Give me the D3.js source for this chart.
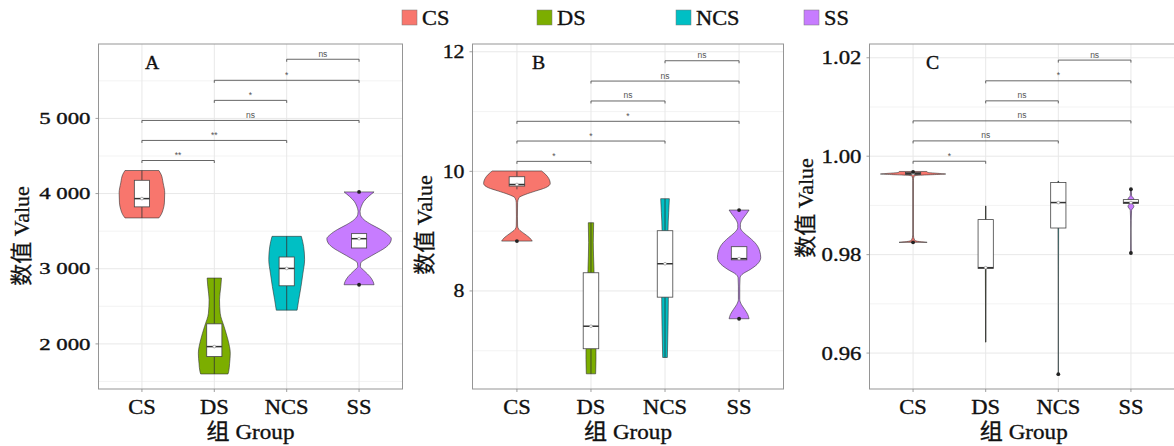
<!DOCTYPE html>
<html><head><meta charset="utf-8">
<script src="https://cdn.jsdelivr.net/npm/d3@7"></script>
<style>body{margin:0;background:#fff} svg{display:block}</style>
</head><body>
<svg id="chart" width="1174" height="446"></svg>
<script>
// ---------- data ----------
const groups = ["CS","DS","NCS","SS"];
const groupColors = ["#F8766D","#7CAE00","#00BFC4","#C77CFF"];

// Panel A
const domainA = [1400, 5990];
const yTicksA = [2000,3000,4000,5000];
const yMinorA = [1500,2500,3500,4500,5500];
const violinA_CS = [[3676,0.52],[3720,0.59],[3787,0.65],[3876,0.69],[4009,0.70],[4142,0.65],[4253,0.59],[4307,0.52]];
const violinA_DS = [[1600,0.42],[1631,0.44],[1742,0.47],[1876,0.49],[2053,0.42],[2231,0.30],[2409,0.18],[2587,0.16],[2764,0.20],[2876,0.22]];
const violinA_NCS = [[2449,0.32],[2587,0.37],[2764,0.44],[2942,0.50],[3120,0.55],[3297,0.52],[3431,0.45]];
const violinA_SS = [[2787,0.46],[2831,0.43],[2898,0.33],[2964,0.18],[3031,0.04],[3076,0.05],[3142,0.26],[3209,0.53],[3276,0.79],[3342,0.95],[3400,0.99],[3453,0.89],[3520,0.67],[3587,0.38],[3653,0.15],[3720,0.04],[3764,0.03],[3831,0.07],[3898,0.15],[3964,0.30],[4022,0.46]];
// box: [lower whisker, q1, median, q3, upper whisker]
const boxA = [[3676,3823,3933,4177,4307],[1600,1831,1964,2267,2876],[2449,2773,3004,3156,3431],[3276,3276,3400,3467,3467]];
const outliersA = [[],[],[],[2787,4022]];
const bracketsA = [["CS","DS",4440,"**"],["CS","NCS",4707,"**"],["CS","SS",4973,"ns"],["DS","NCS",5240,"*"],["DS","SS",5507,"*"],["NCS","SS",5787,"ns"]];

// Panel B
const domainB = [6.36, 12.13];
const yTicksB = [8,10,12];
const yMinorB = [7,9,11];
const violinB_CS = [[8.834,0.46],[8.890,0.38],[8.962,0.21],[9.029,0.06],[9.085,0.02],[9.252,0.015],[9.476,0.02],[9.559,0.06],[9.615,0.26],[9.671,0.56],[9.727,0.86],[9.799,1.0],[9.877,0.96],[9.950,0.86],[10.006,0.74]];
const violinB_DS = [[6.614,0.14],[6.854,0.15],[7.021,0.15],[7.690,0.12],[8.360,0.09],[8.806,0.07],[9.141,0.08]];
const violinB_NCS = [[6.887,0.07],[7.411,0.09],[7.857,0.10],[8.471,0.10],[9.029,0.09],[9.308,0.11],[9.543,0.13]];
const violinB_SS = [[7.535,0.30],[7.607,0.26],[7.690,0.17],[7.774,0.07],[7.858,0.02],[8.081,0.02],[8.220,0.03],[8.276,0.09],[8.360,0.34],[8.444,0.54],[8.555,0.65],[8.667,0.62],[8.778,0.52],[8.890,0.32],[8.974,0.14],[9.057,0.04],[9.113,0.04],[9.197,0.10],[9.280,0.21],[9.353,0.30]];
const boxB = [[9.70,9.754,9.78,9.91,10.0],[6.614,7.033,7.41,8.304,9.14],[6.887,7.896,8.455,9.007,9.54],[8.52,8.52,8.54,8.74,8.74]];
const outliersB = [[8.834],[],[],[7.535,9.352]];
const bracketsB = [["CS","DS",10.167,"*"],["CS","NCS",10.507,"*"],["CS","SS",10.837,"*"],["DS","NCS",11.177,"ns"],["DS","SS",11.51,"ns"],["NCS","SS",11.85,"ns"]];

// Panel C
const domainC = [0.9527, 1.0228];
const yTicksC = [0.96,0.98,1.00,1.02];
const yMinorC = [0.97,0.99,1.01];
const violinC_CS = [[0.98250,0.43],[0.98265,0.2],[0.98290,0.05],[0.9840,0.01],[0.9950,0.01],[0.99595,0.03],[0.99612,0.15],[0.99625,0.6],[0.99638,1.0],[0.99650,0.8],[0.99670,0.45],[0.99690,0.42]];
const violinC_DS = [[0.96222,0.004],[0.9700,0.006],[0.9772,0.01],[0.9850,0.008],[0.98989,0.005]];
const violinC_NCS = [[0.95571,0.004],[0.9700,0.004],[0.9850,0.01],[0.9906,0.015],[0.99491,0.01]];
const violinC_SS = [[0.98033,0.01],[0.9850,0.005],[0.9890,0.02],[0.9898,0.09],[0.99058,0.03],[0.9913,0.09],[0.9920,0.02],[0.99329,0.01]];
const boxC = [[0.9963,0.9963,0.99645,0.99668,0.99668],[0.96222,0.97721,0.97735,0.98712,0.98989],[0.98541,0.98541,0.99058,0.99465,0.99491],[0.99038,0.99038,0.99058,0.99118,0.99118]];
const outliersC = [[0.9825,0.99681],[],[0.95571],[0.98033,0.99329]];
const bracketsC = [["CS","DS",0.99898,"*"],["CS","NCS",1.00311,"ns"],["CS","SS",1.00718,"ns"],["DS","NCS",1.01125,"ns"],["DS","SS",1.01532,"*"],["NCS","SS",1.01953,"ns"]];

const xTitle = "组 Group";
const yTitle = "数值 Value";

// ---------- layout / style ----------
const serif = "'Liberation Serif','Times New Roman','Noto Sans CJK SC',serif";
const sans = "'Liberation Sans',Arial,sans-serif";
const spaceFmt = d3.formatLocale({decimal:".",thousands:" ",grouping:[3],currency:["",""]}).format(",");
const plotTop = 44, plotBottom = 389;

const panels = [
  {label:"A", domain:domainA, ticks:yTicksA, minor:yMinorA, violins:[violinA_CS,violinA_DS,violinA_NCS,violinA_SS], boxes:boxA, outliers:outliersA, brackets:bracketsA, fmt:spaceFmt, x0:98.5, x1:402.5, titleX:21.5, titleY:236, tickSize:16.5, tickSX:1.38, labelX:145},
  {label:"B", domain:domainB, ticks:yTicksB, minor:yMinorB, violins:[violinB_CS,violinB_DS,violinB_NCS,violinB_SS], boxes:boxB, outliers:outliersB, brackets:bracketsB, fmt:d3.format("d"), x0:472.5, x1:783.5, titleX:424, titleY:225, tickSize:19, tickSX:1.15, labelX:532},
  {label:"C", domain:domainC, ticks:yTicksC, minor:yMinorC, violins:[violinC_CS,violinC_DS,violinC_NCS,violinC_SS], boxes:boxC, outliers:outliersC, brackets:bracketsC, fmt:d3.format(".2f"), x0:869.5, x1:1174.5, titleX:805, titleY:208, tickSize:19, tickSX:1.2, labelX:926}
];

const svg = d3.select("#chart");

function stretchedText(g, x, y, str, size, anchor, sx, family) {
  return g.append("text")
    .attr("transform", `translate(${x},${y}) scale(${sx},1)`)
    .attr("text-anchor", anchor)
    .attr("font-family", family || serif)
    .attr("font-size", size)
    .attr("fill", "#111")
    .attr("stroke", "#111").attr("stroke-width", 0.35)
    .text(str);
}

panels.forEach(p => {
  const g = svg.append("g");
  const x = d3.scalePoint().domain(groups).range([p.x0, p.x1]).padding(0.6);
  const y = d3.scaleLinear().domain(p.domain).range([plotBottom, plotTop]);
  const w = d3.scaleLinear().domain([0,1]).range([0, 0.45 * x.step()]);
  const bw = 0.105 * x.step();

  // grid
  g.selectAll(".minor").data(p.minor).join("line")
    .attr("x1", p.x0).attr("x2", p.x1).attr("y1", d => y(d)).attr("y2", d => y(d))
    .attr("stroke", "#f0f0f0").attr("stroke-width", 0.8);
  g.selectAll(".major").data(p.ticks).join("line")
    .attr("x1", p.x0).attr("x2", p.x1).attr("y1", d => y(d)).attr("y2", d => y(d))
    .attr("stroke", "#e8e8e8").attr("stroke-width", 1);
  g.selectAll(".vgrid").data(groups).join("line")
    .attr("x1", d => x(d)).attr("x2", d => x(d)).attr("y1", plotTop).attr("y2", plotBottom)
    .attr("stroke", "#e8e8e8").attr("stroke-width", 1);

  // violins
  groups.forEach((grp, i) => {
    const cx = x(grp);
    const prof = p.violins[i].slice().sort((a,b) => b[0]-a[0]);
    const area = d3.area()
      .y(d => y(d[0]))
      .x0(d => cx - w(d[1]))
      .x1(d => cx + w(d[1]))
      .curve(d3.curveMonotoneY);
    g.append("path").attr("d", area(prof))
      .attr("fill", groupColors[i]).attr("stroke", "#333").attr("stroke-width", 0.6);
  });

  // boxplots
  groups.forEach((grp, i) => {
    const cx = x(grp);
    const [lo, q1, med, q3, hi] = p.boxes[i];
    g.append("line").attr("x1", cx).attr("x2", cx).attr("y1", y(hi)).attr("y2", y(q3))
      .attr("stroke", "#333").attr("stroke-width", 0.8);
    g.append("line").attr("x1", cx).attr("x2", cx).attr("y1", y(q1)).attr("y2", y(lo))
      .attr("stroke", "#333").attr("stroke-width", 0.8);
    g.append("rect").attr("x", cx - bw).attr("width", 2*bw)
      .attr("y", y(q3)).attr("height", Math.max(0.5, y(q1) - y(q3)))
      .attr("fill", "#fff").attr("stroke", "#444").attr("stroke-width", 0.8);
    g.append("line").attr("x1", cx - bw).attr("x2", cx + bw).attr("y1", y(med)).attr("y2", y(med))
      .attr("stroke", "#333").attr("stroke-width", 1.5);
    g.append("circle").attr("cx", cx).attr("cy", y(med)).attr("r", 1.4)
      .attr("fill", "#fff").attr("stroke", "#888").attr("stroke-width", 0.6);
    p.outliers[i].forEach(v => {
      g.append("circle").attr("cx", cx).attr("cy", y(v)).attr("r", 1.9).attr("fill", "#222");
    });
  });

  // significance brackets
  p.brackets.forEach(([a, b, v, lab]) => {
    const xa = x(a), xb = x(b), yy = y(v), tip = 2.5;
    g.append("path").attr("d", `M${xa},${yy+tip}V${yy}H${xb}V${yy+tip}`)
      .attr("fill", "none").attr("stroke", "#555").attr("stroke-width", 0.9);
    g.append("text").attr("x", (xa+xb)/2).attr("y", yy - 2.5)
      .attr("text-anchor", "middle").attr("font-family", sans).attr("font-size", 8.5)
      .attr("fill", "#555").text(lab);
  });

  // border
  g.append("rect").attr("x", p.x0).attr("y", plotTop).attr("width", p.x1 - p.x0).attr("height", plotBottom - plotTop)
    .attr("fill", "none").attr("stroke", "#959595").attr("stroke-width", 1);

  // y axis ticks + labels
  p.ticks.forEach(t => {
    g.append("line").attr("x1", p.x0 - 3).attr("x2", p.x0).attr("y1", y(t)).attr("y2", y(t))
      .attr("stroke", "#888").attr("stroke-width", 0.8);
    stretchedText(g, p.x0 - 8, y(t) + p.tickSize*0.34, p.fmt(t), p.tickSize, "end", p.tickSX);
  });
  // x axis ticks + labels
  groups.forEach(grp => {
    g.append("line").attr("x1", x(grp)).attr("x2", x(grp)).attr("y1", plotBottom).attr("y2", plotBottom + 3)
      .attr("stroke", "#888").attr("stroke-width", 0.8);
    stretchedText(g, x(grp), 414, grp, 20.5, "middle", 1.1);
  });
  // axis titles
  stretchedText(g, (p.x0 + Math.min(p.x1, 1174))/2 + (p.label==="C" ? 2 : 0), 439, xTitle, 22, "middle", 1.05);
  g.append("text")
    .attr("transform", `translate(${p.titleX},${p.titleY}) rotate(-90)`)
    .attr("text-anchor", "middle").attr("dominant-baseline", "central")
    .attr("font-family", serif).attr("font-size", 22).attr("fill", "#111")
    .attr("stroke", "#111").attr("stroke-width", 0.3)
    .text(yTitle);
  // panel label
  stretchedText(g, p.labelX, 69, p.label, 18.5, "start", 1.07);
});

// legend
const legendX = [402, 537, 676, 804];
const lg = svg.append("g");
groups.forEach((grp, i) => {
  lg.append("rect").attr("x", legendX[i]).attr("y", 10).attr("width", 15).attr("height", 15)
    .attr("fill", groupColors[i]).attr("stroke", "#777").attr("stroke-width", 0.5);
  stretchedText(lg, legendX[i] + 20, 25, grp, 20, "start", 1.12);
});
</script>
</body></html>
